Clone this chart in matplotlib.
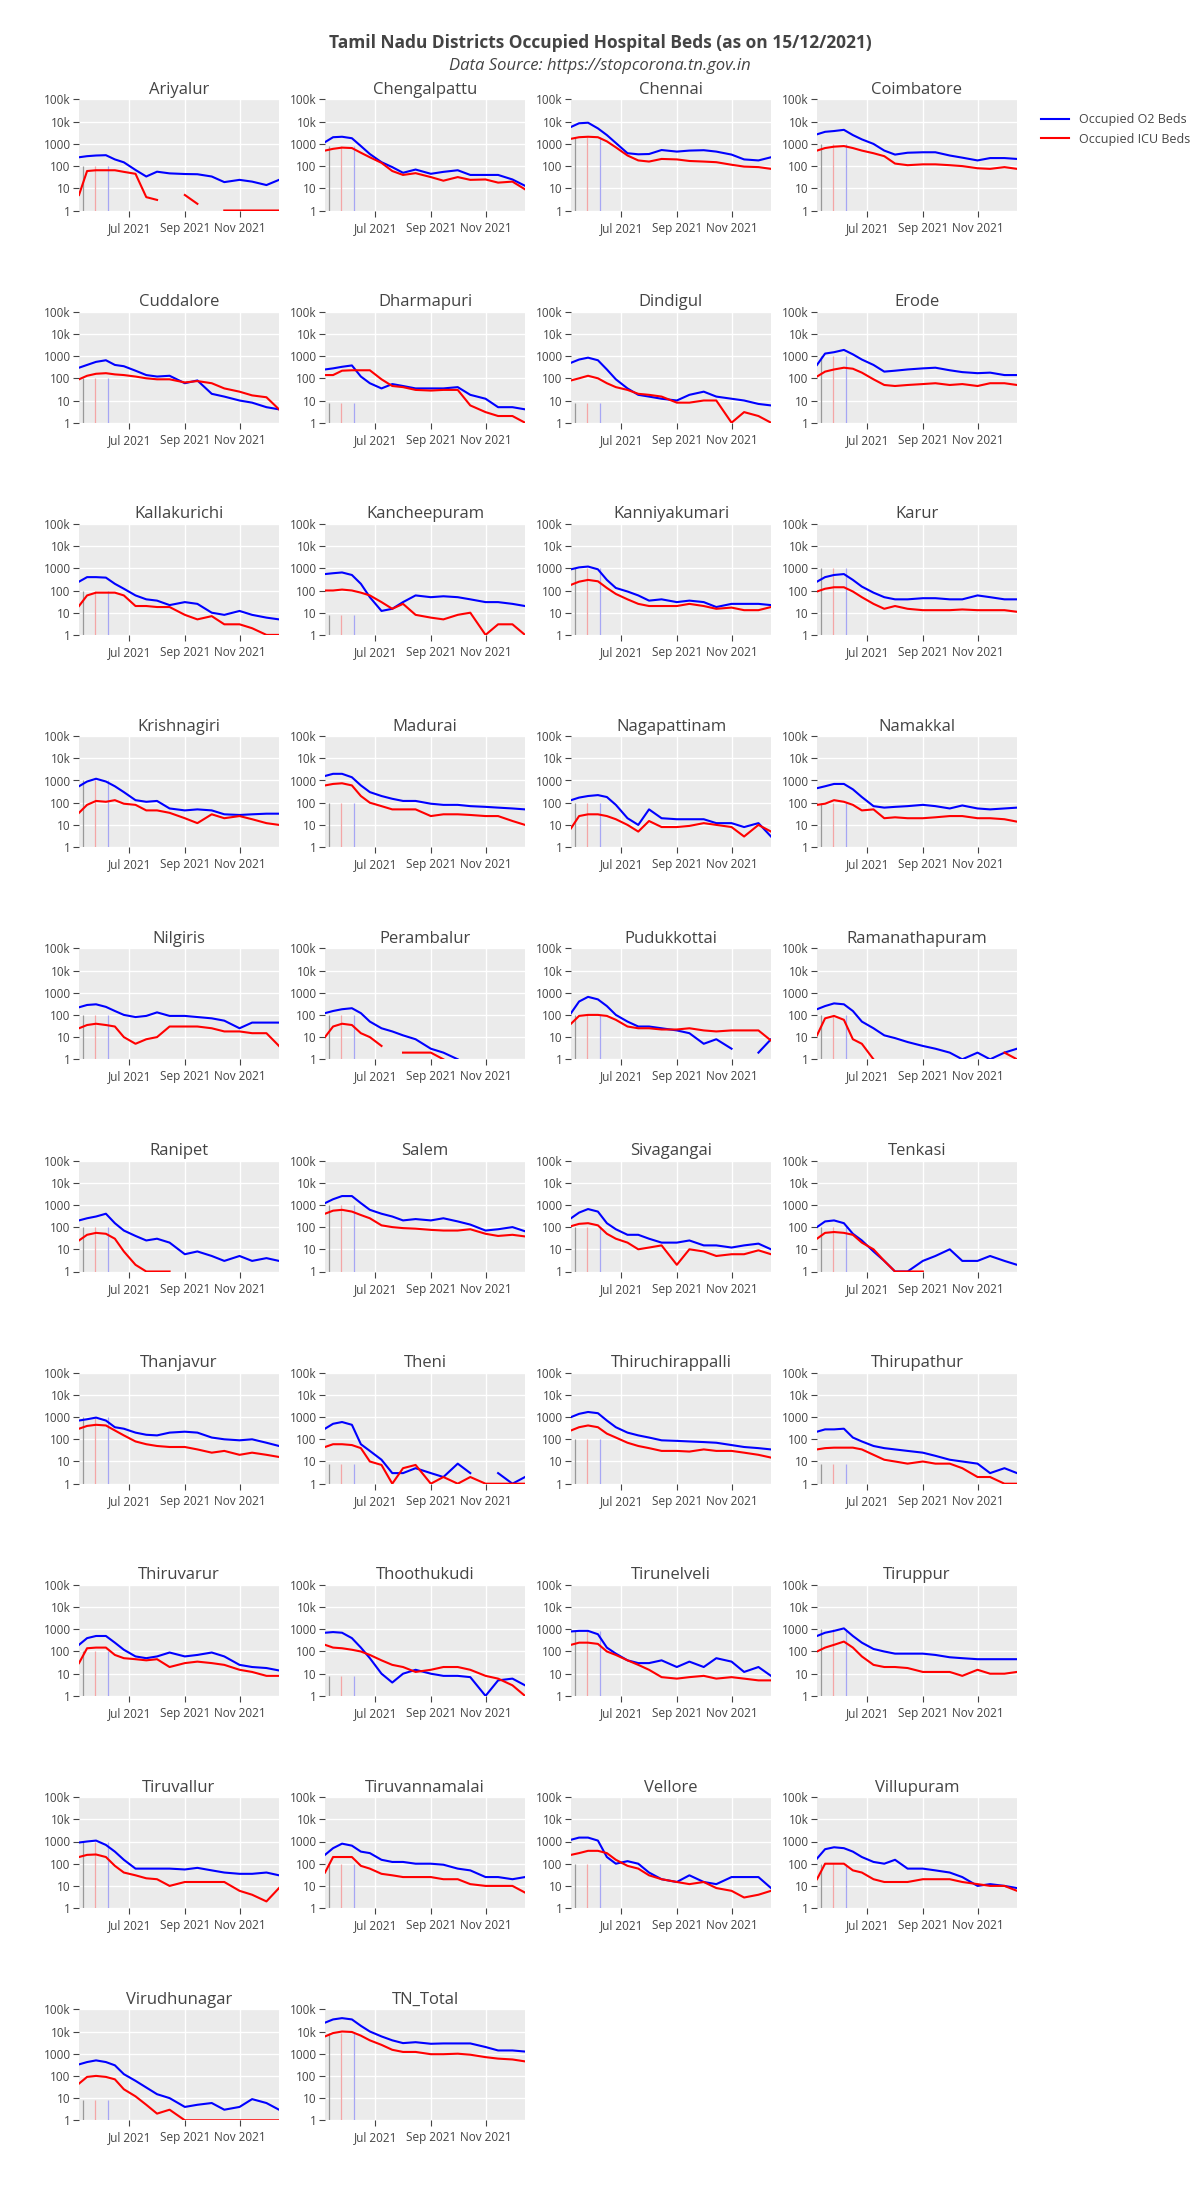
import numpy as np
import matplotlib.pyplot as plt

plt.rcParams['font.family'] = ['Open Sans', 'DejaVu Sans']

# sample dates (values are approximate)
dates = np.array(["2021-05-06", "2021-05-15", "2021-05-25", "2021-06-05", "2021-06-15", "2021-06-25",
                  "2021-07-08", "2021-07-20", "2021-08-01", "2021-08-15", "2021-09-01", "2021-09-15",
                  "2021-10-01", "2021-10-15", "2021-11-01", "2021-11-15", "2021-12-01", "2021-12-15"],
                 dtype="datetime64[D]")
marker_dates = np.array(["2021-05-10", "2021-05-24", "2021-06-07"], dtype="datetime64[D]")

# occupied O2 beds / occupied ICU beds per district (0 = no bed, gap on log axis)
o2_ariyalur = [250, 280, 300, 310, 200, 148, 67, 34, 56, 47, 44, 43, 34, 19, 24, 20, 14, 24]
icu_ariyalur = [5, 60, 65, 65, 65, 55, 45, 4, 3, 0, 5, 2, 0, 1, 1, 1, 1, 1]
o2_chengalpattu = [1200, 2000, 2100, 1800, 800, 350, 150, 90, 50, 70, 45, 55, 65, 40, 40, 40, 25, 13]
icu_chengalpattu = [500, 600, 680, 650, 400, 250, 140, 60, 40, 48, 32, 22, 32, 24, 25, 18, 20, 9]
o2_chennai = [5800, 8500, 9000, 5000, 2500, 1100, 380, 340, 350, 530, 450, 500, 520, 450, 330, 200, 180, 250]
icu_chennai = [1700, 2000, 2100, 2000, 1300, 700, 300, 180, 160, 210, 200, 170, 160, 150, 115, 95, 90, 75]
o2_coimbatore = [2700, 3500, 3800, 4300, 2500, 1600, 1000, 500, 330, 400, 420, 420, 300, 240, 180, 230, 230, 210]
icu_coimbatore = [500, 650, 750, 800, 650, 500, 380, 280, 130, 110, 120, 120, 110, 100, 80, 75, 90, 75]
o2_cuddalore = [300, 400, 550, 650, 400, 350, 220, 140, 120, 130, 60, 80, 20, 15, 10, 8, 5, 4]
icu_cuddalore = [90, 130, 160, 170, 150, 140, 120, 100, 90, 90, 65, 75, 60, 35, 25, 17, 14, 4]
o2_dharmapuri = [250, 280, 330, 380, 120, 60, 35, 55, 45, 35, 35, 35, 40, 18, 12, 5, 5, 4]
icu_dharmapuri = [140, 140, 220, 230, 230, 230, 90, 45, 40, 30, 28, 30, 30, 6, 3, 2, 2, 1]
o2_dindigul = [500, 700, 850, 650, 250, 90, 35, 18, 15, 12, 10, 18, 25, 15, 12, 10, 7, 6]
icu_dindigul = [80, 100, 130, 100, 60, 40, 30, 20, 18, 15, 8, 8, 10, 10, 1, 3, 2, 1]
o2_erode = [400, 1300, 1500, 1900, 1200, 700, 400, 200, 220, 250, 280, 300, 230, 190, 170, 180, 140, 140]
icu_erode = [120, 200, 250, 300, 270, 180, 90, 50, 45, 50, 55, 60, 50, 55, 45, 60, 60, 50]
o2_kallakurichi = [250, 400, 400, 380, 200, 120, 60, 40, 35, 22, 30, 25, 10, 8, 12, 8, 6, 5]
icu_kallakurichi = [20, 60, 80, 80, 80, 60, 20, 20, 18, 18, 8, 5, 7, 3, 3, 2, 1, 1]
o2_kancheepuram = [550, 600, 650, 500, 200, 50, 12, 15, 30, 60, 50, 55, 50, 40, 30, 30, 25, 20]
icu_kancheepuram = [100, 100, 110, 100, 80, 60, 30, 15, 25, 8, 6, 5, 8, 10, 1, 3, 3, 1]
o2_kanniyakumari = [900, 1100, 1200, 900, 300, 130, 90, 60, 35, 40, 30, 35, 30, 18, 25, 25, 25, 22]
icu_kanniyakumari = [180, 250, 300, 260, 130, 70, 40, 25, 20, 20, 20, 25, 20, 15, 17, 13, 13, 18]
o2_karur = [250, 400, 500, 550, 300, 150, 80, 50, 40, 40, 45, 45, 40, 40, 60, 50, 40, 40]
icu_karur = [90, 120, 140, 140, 90, 50, 25, 15, 20, 15, 13, 13, 13, 14, 13, 13, 13, 11]
o2_krishnagiri = [550, 900, 1200, 900, 550, 300, 130, 110, 120, 55, 45, 50, 45, 30, 28, 30, 32, 32]
icu_krishnagiri = [35, 80, 120, 110, 130, 90, 80, 45, 45, 35, 20, 12, 30, 20, 25, 18, 12, 10]
o2_madurai = [1600, 2000, 2000, 1400, 600, 300, 200, 150, 120, 120, 90, 80, 80, 70, 65, 60, 55, 50]
icu_madurai = [600, 700, 750, 600, 200, 100, 70, 50, 50, 50, 25, 30, 30, 28, 25, 25, 15, 10]
o2_nagapattinam = [130, 170, 200, 220, 180, 80, 20, 10, 50, 20, 18, 18, 18, 12, 12, 8, 12, 3]
icu_nagapattinam = [7, 25, 30, 30, 25, 18, 10, 5, 15, 8, 8, 9, 12, 10, 8, 3, 10, 5]
o2_namakkal = [450, 550, 700, 700, 400, 180, 70, 60, 65, 70, 80, 70, 55, 75, 55, 50, 55, 60]
icu_namakkal = [80, 90, 130, 110, 80, 45, 50, 20, 22, 20, 20, 22, 25, 25, 20, 20, 18, 14]
o2_nilgiris = [220, 280, 300, 230, 150, 100, 80, 90, 130, 90, 90, 80, 70, 55, 25, 45, 45, 45]
icu_nilgiris = [25, 35, 40, 35, 30, 10, 5, 8, 10, 30, 30, 30, 25, 18, 18, 15, 15, 4]
o2_perambalur = [120, 150, 180, 200, 120, 50, 25, 18, 12, 8, 3, 2, 1, 0, 3, 0, 0, 0]
icu_perambalur = [10, 30, 40, 35, 15, 10, 4, 0, 2, 2, 2, 1, 0, 0, 0, 0, 0, 0]
o2_pudukkottai = [120, 400, 650, 500, 250, 100, 50, 30, 30, 25, 20, 15, 5, 8, 3, 0, 2, 8]
icu_pudukkottai = [40, 90, 100, 100, 90, 60, 30, 25, 25, 22, 22, 25, 20, 18, 20, 20, 20, 7]
o2_ramanathapuram = [180, 250, 330, 300, 150, 50, 25, 12, 9, 6, 4, 3, 2, 1, 2, 1, 2, 3]
icu_ramanathapuram = [12, 70, 90, 60, 8, 5, 1, 0, 0, 0, 0, 0, 0, 0, 0, 0, 2, 1]
o2_ranipet = [200, 250, 300, 400, 150, 70, 40, 25, 30, 20, 6, 8, 5, 3, 5, 3, 4, 3]
icu_ranipet = [25, 45, 55, 50, 30, 8, 2, 1, 1, 1, 0, 1, 0, 0, 0, 0, 0, 0]
o2_salem = [1200, 1800, 2500, 2500, 1200, 600, 400, 300, 200, 230, 200, 250, 180, 130, 70, 80, 100, 65]
icu_salem = [400, 550, 600, 500, 350, 250, 120, 100, 90, 85, 75, 70, 70, 80, 50, 40, 45, 38]
o2_sivagangai = [250, 450, 650, 500, 150, 80, 45, 45, 30, 20, 20, 25, 15, 15, 12, 15, 18, 10]
icu_sivagangai = [110, 140, 150, 120, 50, 30, 20, 10, 12, 15, 2, 10, 8, 5, 6, 6, 9, 6]
o2_tenkasi = [100, 180, 200, 150, 50, 25, 8, 3, 1, 1, 3, 5, 10, 3, 3, 5, 3, 2]
icu_tenkasi = [30, 55, 60, 55, 45, 20, 10, 3, 1, 1, 1, 0, 0, 0, 0, 0, 0, 0]
o2_thanjavur = [700, 800, 950, 700, 350, 300, 200, 160, 150, 200, 220, 200, 120, 100, 90, 100, 70, 50]
icu_thanjavur = [300, 400, 450, 420, 250, 150, 80, 60, 50, 45, 45, 35, 25, 30, 20, 25, 20, 16]
o2_theni = [300, 500, 600, 450, 60, 30, 12, 3, 3, 5, 3, 2, 8, 3, 0, 3, 1, 2]
icu_theni = [45, 60, 60, 55, 40, 10, 7, 1, 5, 7, 1, 2, 1, 2, 1, 1, 1, 1]
o2_thiruchirappalli = [1000, 1400, 1700, 1500, 700, 350, 200, 150, 120, 90, 85, 80, 75, 70, 55, 45, 40, 35]
icu_thiruchirappalli = [250, 350, 420, 350, 180, 120, 70, 50, 40, 30, 30, 28, 35, 30, 30, 25, 20, 15]
o2_thirupathur = [220, 280, 280, 300, 120, 80, 50, 40, 35, 30, 25, 18, 12, 10, 8, 3, 5, 3]
icu_thirupathur = [35, 40, 42, 42, 42, 35, 20, 12, 10, 8, 10, 8, 8, 5, 2, 2, 1, 1]
o2_thiruvarur = [200, 400, 500, 500, 250, 120, 60, 50, 60, 90, 60, 70, 90, 60, 25, 20, 18, 14]
icu_thiruvarur = [30, 140, 150, 150, 70, 50, 45, 40, 45, 20, 30, 35, 30, 25, 15, 12, 8, 8]
o2_thoothukudi = [700, 750, 700, 400, 150, 50, 10, 4, 10, 15, 10, 8, 8, 7, 1, 5, 6, 3]
icu_thoothukudi = [200, 150, 140, 120, 100, 70, 40, 25, 20, 12, 15, 20, 20, 15, 8, 6, 3, 1]
o2_tirunelveli = [800, 850, 850, 600, 150, 80, 40, 30, 30, 40, 20, 35, 20, 50, 35, 12, 20, 8]
icu_tirunelveli = [200, 250, 250, 220, 100, 70, 40, 25, 15, 7, 6, 7, 8, 6, 7, 6, 5, 5]
o2_tiruppur = [500, 700, 850, 1100, 500, 250, 130, 100, 80, 80, 80, 70, 55, 50, 45, 45, 45, 45]
icu_tiruppur = [100, 150, 200, 280, 150, 60, 25, 20, 20, 18, 12, 12, 12, 8, 15, 10, 10, 12]
o2_tiruvallur = [900, 1000, 1100, 700, 350, 150, 60, 60, 60, 60, 55, 65, 50, 40, 35, 35, 40, 30]
icu_tiruvallur = [200, 250, 260, 200, 80, 40, 30, 22, 20, 10, 15, 15, 15, 15, 6, 4, 2, 8]
o2_tiruvannamalai = [250, 500, 800, 650, 350, 300, 150, 120, 120, 100, 100, 90, 60, 50, 25, 25, 20, 25]
icu_tiruvannamalai = [40, 200, 200, 200, 80, 60, 35, 30, 25, 25, 25, 20, 20, 12, 10, 10, 10, 5]
o2_vellore = [1200, 1500, 1500, 1100, 200, 100, 130, 100, 40, 20, 15, 30, 15, 12, 25, 25, 25, 8]
icu_vellore = [250, 300, 380, 380, 300, 150, 80, 60, 30, 20, 15, 12, 15, 8, 6, 3, 4, 6]
o2_villupuram = [170, 450, 550, 500, 350, 200, 120, 100, 150, 60, 60, 50, 40, 25, 10, 12, 10, 8]
icu_villupuram = [20, 100, 100, 100, 50, 40, 20, 15, 15, 15, 20, 20, 20, 15, 12, 10, 10, 6]
o2_virudhunagar = [330, 420, 500, 420, 300, 120, 60, 30, 15, 10, 4, 5, 6, 3, 4, 9, 6, 3]
icu_virudhunagar = [45, 90, 100, 90, 70, 25, 12, 5, 2, 3, 1, 1, 1, 1, 1, 1, 1, 1]
o2_tn_total = [25000, 35000, 40000, 35000, 18000, 10000, 6000, 4000, 3000, 3300, 2800, 2900, 2900, 2900, 2000, 1400, 1400, 1250]
icu_tn_total = [6000, 8500, 10000, 9500, 6500, 4000, 2500, 1500, 1200, 1200, 950, 950, 1000, 900, 700, 600, 550, 450]

districts = ["Ariyalur", "Chengalpattu", "Chennai", "Coimbatore",
             "Cuddalore", "Dharmapuri", "Dindigul", "Erode",
             "Kallakurichi", "Kancheepuram", "Kanniyakumari", "Karur",
             "Krishnagiri", "Madurai", "Nagapattinam", "Namakkal",
             "Nilgiris", "Perambalur", "Pudukkottai", "Ramanathapuram",
             "Ranipet", "Salem", "Sivagangai", "Tenkasi",
             "Thanjavur", "Theni", "Thiruchirappalli", "Thirupathur",
             "Thiruvarur", "Thoothukudi", "Tirunelveli", "Tiruppur",
             "Tiruvallur", "Tiruvannamalai", "Vellore", "Villupuram",
             "Virudhunagar", "TN_Total"]
o2_series = [o2_ariyalur, o2_chengalpattu, o2_chennai, o2_coimbatore,
             o2_cuddalore, o2_dharmapuri, o2_dindigul, o2_erode,
             o2_kallakurichi, o2_kancheepuram, o2_kanniyakumari, o2_karur,
             o2_krishnagiri, o2_madurai, o2_nagapattinam, o2_namakkal,
             o2_nilgiris, o2_perambalur, o2_pudukkottai, o2_ramanathapuram,
             o2_ranipet, o2_salem, o2_sivagangai, o2_tenkasi,
             o2_thanjavur, o2_theni, o2_thiruchirappalli, o2_thirupathur,
             o2_thiruvarur, o2_thoothukudi, o2_tirunelveli, o2_tiruppur,
             o2_tiruvallur, o2_tiruvannamalai, o2_vellore, o2_villupuram,
             o2_virudhunagar, o2_tn_total]
icu_series = [icu_ariyalur, icu_chengalpattu, icu_chennai, icu_coimbatore,
              icu_cuddalore, icu_dharmapuri, icu_dindigul, icu_erode,
              icu_kallakurichi, icu_kancheepuram, icu_kanniyakumari, icu_karur,
              icu_krishnagiri, icu_madurai, icu_nagapattinam, icu_namakkal,
              icu_nilgiris, icu_perambalur, icu_pudukkottai, icu_ramanathapuram,
              icu_ranipet, icu_salem, icu_sivagangai, icu_tenkasi,
              icu_thanjavur, icu_theni, icu_thiruchirappalli, icu_thirupathur,
              icu_thiruvarur, icu_thoothukudi, icu_tirunelveli, icu_tiruppur,
              icu_tiruvallur, icu_tiruvannamalai, icu_vellore, icu_villupuram,
              icu_virudhunagar, icu_tn_total]
# height of the three marker lines in each panel
marker_top = [100, 800, 2000, 1000, 100, 8, 8, 1000, 100, 8, 1000, 1000,
              1000, 100, 100, 100, 100, 100, 100, 100, 100, 1000, 100, 100,
              1000, 8, 100, 8, 100, 8, 800, 1000, 1000, 100, 100, 100, 8, 9000]

tick_dates = np.array(["2021-07-01", "2021-09-01", "2021-11-01"], dtype="datetime64[D]")
tick_labels = ["Jul 2021", "Sep 2021", "Nov 2021"]
ytick_vals = [1, 10, 100, 1000, 10000, 100000]
ytick_labels = ["1", "10", "100", "1000", "10k", "100k"]

W, H = 1200, 2200
fig = plt.figure(figsize=(12, 22), dpi=100)

col_left = [79, 325, 571, 817]
row_top0, row_step = 99.5, 212.2
pw, ph = 200, 111
txt = "#444444"

for i, name in enumerate(districts):
    r, c = divmod(i, 4)
    top = row_top0 + r * row_step
    ax = fig.add_axes([col_left[c] / W, 1 - (top + ph) / H, pw / W, ph / H])
    ax.set_facecolor("#EBEBEB")
    ax.set_yscale("log", nonpositive="mask")
    ax.vlines(marker_dates, 1, marker_top[i], colors=["#999999", "#F4A6A6", "#A6A6F4"], linewidth=0.9, zorder=2)
    ax.plot(dates, np.array(o2_series[i], dtype=float), color="#0000FF", lw=1.5, zorder=3)
    ax.plot(dates, np.array(icu_series[i], dtype=float), color="#FF0000", lw=1.5, zorder=3)
    ax.set_xlim(dates[0], dates[-1])
    ax.set_ylim(1, 100000)
    ax.set_xticks(tick_dates)
    ax.set_xticklabels(tick_labels)
    ax.set_yticks(ytick_vals)
    ax.set_yticklabels(ytick_labels)
    ax.minorticks_off()
    ax.grid(True, color="white", linewidth=1.0)
    ax.set_axisbelow(True)
    for s in ax.spines.values():
        s.set_visible(False)
    ax.tick_params(colors=txt, labelsize=8.5, length=4, width=0.8, pad=2)
    ax.tick_params(axis="x", pad=4)
    ax.set_title(name, fontsize=12, color=txt, pad=4)

fig.text(0.5, 1 - 43 / H, "Tamil Nadu Districts Occupied Hospital Beds (as on 15/12/2021)",
         ha="center", va="center", fontsize=12.5, fontweight="bold", color=txt)
fig.text(0.5, 1 - 66 / H, "Data Source: https://stopcorona.tn.gov.in",
         ha="center", va="center", fontsize=12, style="italic", color=txt)

h1, = plt.plot([], [], color="#0000FF", lw=1.5, label="Occupied O2 Beds")
h2, = plt.plot([], [], color="#FF0000", lw=1.5, label="Occupied ICU Beds")
fig.legend(handles=[h1, h2], loc="upper left", bbox_to_anchor=(1030 / W, 1 - 102 / H),
           frameon=False, fontsize=9, handlelength=2.2, labelcolor=txt)

fig.savefig("out.png", dpi=100)
